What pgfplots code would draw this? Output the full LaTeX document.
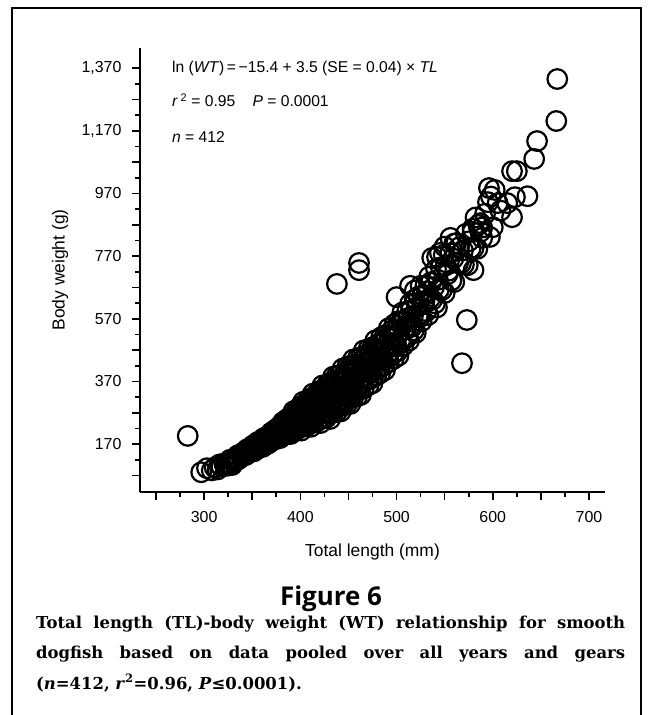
\documentclass[border=0pt]{standalone}
\usepackage{pgfplots}
\pgfplotsset{compat=1.18}
\usepackage{fontspec}
\setmainfont{Liberation Sans}
\newfontfamily\capfont{DejaVu Serif}
\newfontfamily\figfont{Open Sans}
\begin{document}
\begin{tikzpicture}
\useasboundingbox (0,0) rectangle (652bp,715bp);
\draw[line width=2.5bp] (12bp,0) -- (12bp,707bp) -- (641bp,707bp) -- (641bp,0);
\begin{axis}[
  at={(140bp,223bp)}, anchor=south west,
  scale only axis, width=465bp, height=444bp,
  xmin=233.4, xmax=716.6, ymin=17, ymax=1434,
  axis lines=left, axis line style={-, line width=1.6bp},
  tick align=outside, major tick length=8bp, minor tick length=5bp,
  every tick/.style={line width=1.6bp, black},
  xtick={250,300,...,700}, xticklabels={,300,,400,,500,,600,,700},
  minor x tick num=1,
  ytick={70,170,...,1370},
  yticklabels={,170,,370,,570,,770,,970,,{1,170},,{1,370}},
  minor y tick num=1,
  tick label style={font=\fontsize{16}{16}\selectfont},
  xticklabel style={yshift=-8bp},
  yticklabel style={xshift=-7bp},
  xlabel={Total length (mm)}, ylabel={Body weight (g)},
  label style={font=\fontsize{17.5}{17.5}\selectfont},
  xlabel style={at={(axis description cs:0.5,-0.135)}, anchor=center},
  ylabel style={at={(axis description cs:-0.172,0.5)}, anchor=center},
  clip=false
]
\addplot[only marks, mark=o, mark size=9.8bp, mark options={line width=2.2bp, black, fill=none}] table[row sep=\\] {
x y\\
283 196\\ 297 80\\ 303 93\\ 308 86\\ 311 95\\ 314 89\\ 316 105\\ 318 98\\
321 108\\ 322 100\\ 324 108\\ 326 102\\ 327 120\\ 329 103\\
330 117\\ 331 115\\ 332 124\\ 334 119\\ 335 134\\ 336 122\\ 338 135\\ 339 133\\
340 136\\ 341 144\\ 342 134\\ 343 145\\ 344 136\\ 345 154\\ 346 146\\ 347 154\\ 348 147\\ 349 154\\
350 147\\ 351 166\\ 352 147\\ 352 160\\ 353 157\\ 354 169\\ 355 158\\ 356 177\\ 356 156\\ 357 172\\ 358 168\\ 359 170\\ 359 179\\
360 164\\ 361 178\\ 361 161\\ 362 189\\ 363 175\\ 364 187\\ 364 174\\ 365 183\\ 366 174\\ 366 195\\ 367 172\\ 368 191\\ 368 184\\ 369 198\\ 369 183\\
370 207\\ 370 180\\ 371 201\\ 372 194\\ 372 196\\ 373 211\\ 373 187\\ 374 206\\ 375 186\\ 375 218\\ 376 200\\ 377 216\\ 377 198\\ 378 210\\ 378 193\\ 379 227\\ 379 189\\
380 216\\ 380 205\\ 381 229\\ 381 201\\ 382 240\\ 382 197\\ 383 228\\ 383 215\\ 384 220\\ 384 238\\ 385 207\\ 385 230\\ 386 201\\ 386 249\\ 387 221\\ 387 241\\ 388 217\\ 389 234\\ 389 210\\
390 258\\ 390 202\\ 391 242\\ 391 225\\ 392 259\\ 392 220\\ 393 275\\ 393 212\\ 394 256\\ 394 238\\ 395 244\\ 395 269\\ 396 225\\ 396 257\\ 397 217\\ 397 281\\ 398 244\\ 398 269\\ 399 239\\ 399 257\\
400 224\\ 400 290\\ 401 213\\ 401 266\\ 402 246\\ 402 285\\ 403 239\\ 403 305\\ 404 227\\ 404 280\\ 405 260\\ 405 265\\ 406 297\\ 406 240\\ 407 281\\ 407 228\\ 408 310\\ 408 261\\ 409 294\\ 409 254\\ 409 276\\
410 238\\ 410 315\\ 411 225\\ 411 286\\ 412 263\\ 412 309\\ 413 254\\ 413 331\\ 414 241\\ 414 302\\ 415 278\\ 415 284\\ 416 321\\ 416 255\\ 417 302\\ 417 241\\ 418 335\\ 418 279\\ 419 317\\ 419 271\\ 419 296\\
420 252\\ 420 339\\ 421 237\\ 421 307\\ 422 280\\ 422 332\\ 423 270\\ 423 357\\ 424 254\\ 424 324\\ 425 297\\ 425 303\\ 426 345\\ 426 270\\ 427 323\\ 427 254\\ 428 360\\ 428 296\\ 429 339\\ 429 287\\
430 318\\ 430 267\\ 431 365\\ 431 250\\ 432 329\\ 432 297\\ 433 357\\ 433 287\\ 434 385\\ 434 270\\ 435 349\\ 435 317\\ 436 326\\ 436 371\\ 437 290\\ 437 347\\ 438 273\\ 438 388\\ 439 320\\ 439 365\\
440 309\\ 440 342\\ 441 291\\ 441 390\\ 442 274\\ 442 353\\ 443 323\\ 443 382\\ 444 312\\ 444 411\\ 445 295\\ 445 374\\ 446 343\\ 446 350\\ 447 399\\ 447 313\\ 448 375\\ 448 295\\ 449 418\\ 449 344\\
450 394\\ 450 333\\ 451 369\\ 451 316\\ 452 419\\ 452 298\\ 453 381\\ 453 347\\ 454 410\\ 454 337\\ 455 440\\ 455 319\\ 456 402\\ 456 368\\ 457 378\\ 457 424\\ 458 340\\ 458 400\\ 459 322\\
460 445\\ 460 372\\ 461 422\\ 461 361\\ 462 397\\ 462 344\\ 463 447\\ 463 327\\ 464 409\\ 464 376\\ 465 439\\ 465 366\\ 466 469\\ 466 348\\ 467 431\\ 467 398\\ 468 408\\ 469 456\\
470 375\\ 470 432\\ 471 358\\ 471 474\\ 472 406\\ 472 451\\ 473 396\\ 473 428\\ 474 380\\ 475 479\\ 475 364\\ 476 444\\ 476 412\\ 477 472\\ 478 405\\ 478 501\\ 479 389\\
480 468\\ 480 437\\ 481 446\\ 481 489\\ 482 412\\ 483 471\\ 483 396\\ 484 511\\ 484 443\\ 485 490\\ 486 437\\ 486 468\\ 487 421\\ 488 518\\ 488 406\\ 489 483\\
490 456\\ 490 510\\ 491 447\\ 492 540\\ 492 432\\ 493 508\\ 494 480\\ 494 487\\ 495 532\\ 496 457\\ 496 511\\ 497 442\\ 498 553\\ 498 487\\ 499 532\\
500 481\\ 500 511\\ 501 466\\ 502 562\\ 502 452\\ 503 529\\ 504 503\\ 505 562\\ 505 494\\ 506 590\\ 507 484\\ 508 562\\ 509 535\\
510 545\\ 511 593\\ 511 511\\ 512 572\\ 513 500\\ 514 618\\ 514 548\\ 515 597\\ 516 544\\ 517 579\\ 518 533\\ 519 632\\
520 525\\ 521 607\\ 522 579\\ 523 641\\ 524 574\\ 525 675\\ 526 562\\ 527 644\\ 528 616\\ 529 626\\
530 676\\ 531 594\\ 532 658\\ 533 582\\ 534 705\\ 535 636\\ 536 687\\ 537 630\\ 539 671\\
540 619\\ 541 728\\ 542 606\\ 543 694\\ 544 663\\ 546 734\\ 547 661\\ 549 774\\
550 652\\ 551 740\\ 553 712\\ 554 723\\ 556 779\\ 557 692\\ 559 762\\
560 687\\ 562 811\\ 564 748\\ 565 798\\ 567 747\\ 569 788\\
570 743\\ 572 841\\ 574 741\\ 575 817\\ 577 795\\ 579 857\\
580 795\\ 582 893\\ 584 793\\ 585 869\\ 587 847\\ 589 861\\
587 875\\ 589 828\\ 597 831\\ 600 862\\ 595 942\\ 605 939\\ 615 939\\ 596 987\\ 602 981\\ 620 894\\
623 958\\ 636 961\\ 620 1041\\ 625 1041\\ 643 1080\\ 646 1137\\ 666 1201\\ 667 1335\\ 592 905\\ 608 915\\
598 960\\ 556 828\\ 542 767\\ 580 725\\ 579 847\\ 573 566\\ 568 428\\ 514 675\\ 519 660\\ 500 639\\
438 681\\ 461 748\\ 461 725\\ 537 764\\ 545 780\\ 550 800\\ 560 810\\
};
\end{axis}
\begin{scope}[every node/.style={anchor=base west, inner sep=0pt, font=\fontsize{15.7}{15.7}\selectfont}]
\node at (172bp,642bp) {ln (\textit{WT})\,=\,−15.4 + 3.5 (SE = 0.04) × \textit{TL}};
\node at (172bp,608.5bp) {\textit{r}\,\textsuperscript{2} = 0.95\hspace{1.1em}\textit{P} = 0.0001};
\node at (172bp,572.5bp) {\textit{n} = 412};
\end{scope}
\node[font=\figfont\bfseries\fontsize{26}{26}\selectfont, inner sep=0pt] at (331bp,116bp) {Figure 6};
\begin{scope}[every node/.style={anchor=base west, inner sep=0pt, font=\capfont\bfseries\fontsize{16.5}{16.5}\selectfont}]
\node at (36bp,86bp) {\makebox[589bp][s]{Total length (TL)-body weight (WT) relationship for smooth}};
\node at (36bp,56bp) {\makebox[589bp][s]{dogfish based on data pooled over all years and gears}};
\node at (36bp,26bp) {(\textit{n}=412, \textit{r}\textsuperscript{2}=0.96, \textit{P}≤0.0001).};
\end{scope}
\end{tikzpicture}
\end{document}
